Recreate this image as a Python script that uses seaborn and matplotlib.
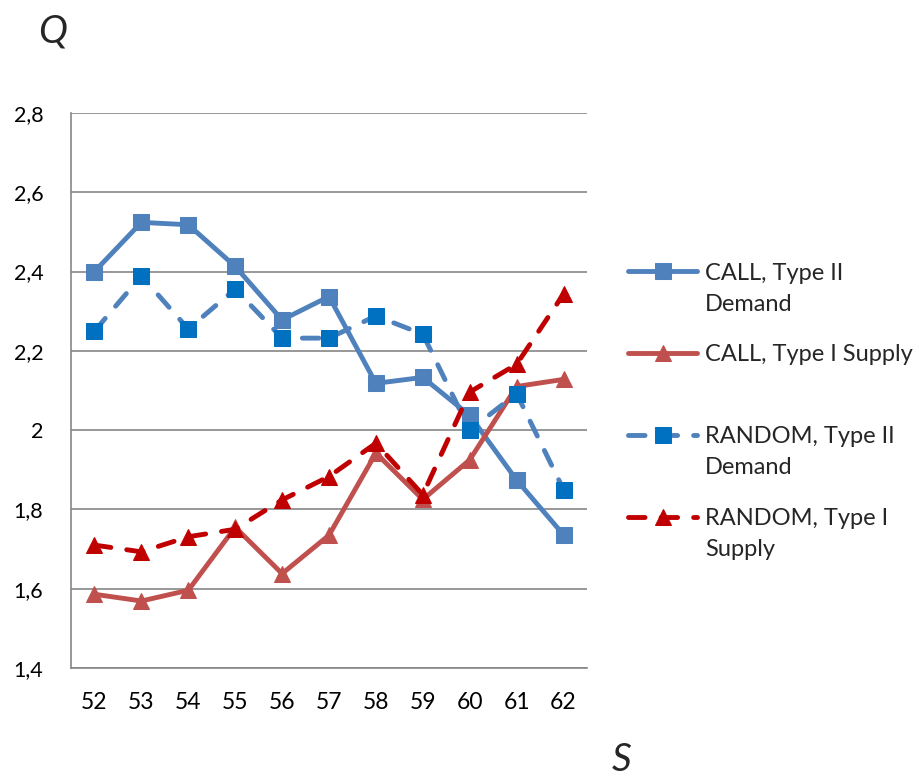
import matplotlib
matplotlib.use("Agg")
import matplotlib.pyplot as plt
import matplotlib.ticker as mticker
import seaborn as sns
import pandas as pd

# Parameter S on the horizontal axis
s_values = [52, 53, 54, 55, 56, 57, 58, 59, 60, 61, 62]

# Q for each configuration
call_demand = [2.40, 2.524, 2.518, 2.413, 2.278, 2.337, 2.118, 2.133, 2.037, 1.874, 1.736]
call_supply = [1.586, 1.569, 1.596, 1.755, 1.638, 1.735, 1.942, 1.825, 1.925, 2.11, 2.128]
random_demand = [2.25, 2.389, 2.255, 2.356, 2.232, 2.232, 2.288, 2.242, 2.0, 2.092, 1.85]
random_supply = [1.71, 1.693, 1.731, 1.75, 1.824, 1.883, 1.967, 1.837, 2.096, 2.166, 2.343]

# Legend labels: first line goes with the handle, second line (if any) below it
series_first = ["CALL, Type II", "CALL, Type I Supply", "RANDOM, Type II", "RANDOM, Type I"]
series_second = ["Demand", "", "Demand", "Supply"]
y_ticks = [1.4, 1.6, 1.8, 2.0, 2.2, 2.4, 2.6, 2.8]

sns.set_theme(style="white")
plt.rcParams["font.family"] = ["Lato", "DejaVu Sans"]

fig = plt.figure(figsize=(9.19, 7.79), dpi=100)
ax = fig.add_axes([0.0773, 0.1425, 0.5614, 0.7125])

lw = 3.5
dash = (0, (3.4, 3.3))
styles = [
    dict(color="#4F81BD", marker="s", markersize=12, markerfacecolor="#4F81BD",
         markeredgecolor="#4F81BD", linestyle="-"),
    dict(color="#C0504D", marker="^", markersize=12, markerfacecolor="#C0504D",
         markeredgecolor="#C0504D", linestyle="-"),
    dict(color="#4F81BD", marker="s", markersize=12, markerfacecolor="#0070C0",
         markeredgecolor="#0070C0", linestyle=dash),
    dict(color="#C00000", marker="^", markersize=12, markerfacecolor="#C00000",
         markeredgecolor="#C00000", linestyle=dash),
]

for vals, label, st in zip([call_demand, call_supply, random_demand, random_supply],
                           series_first, styles):
    df = pd.DataFrame({"S": s_values, "Q": vals})
    sns.lineplot(data=df, x="S", y="Q", ax=ax, label=label, linewidth=lw,
                 dash_capstyle="round", solid_capstyle="round", **st)

ax.set_xlim(51.5, 62.5)
ax.set_ylim(1.4, 2.8)
ax.set_xlabel("")
ax.set_ylabel("")

# Category-style x axis: labels at each S, tick marks between categories
ax.xaxis.set_major_locator(mticker.FixedLocator(s_values))
ax.xaxis.set_minor_locator(mticker.FixedLocator([v - 0.5 for v in s_values] + [s_values[-1] + 0.5]))
ax.tick_params(axis="x", which="major", length=0, pad=17, labelsize=16.5, labelcolor="black")
ax.tick_params(axis="x", which="minor", length=8, width=1.2, color="#868686", direction="out")

ax.set_yticks(y_ticks)
ax.yaxis.set_major_formatter(mticker.FuncFormatter(
    lambda v, p: (f"{v:.1f}".rstrip("0").rstrip(".")).replace(".", ",")))
ax.tick_params(axis="y", which="major", length=8, width=1.2, color="#868686",
               direction="out", pad=12, labelsize=15.5, labelcolor="black")

ax.grid(axis="y", color="#868686", linewidth=1.2)
ax.set_axisbelow(True)
for side in ["top", "right"]:
    ax.spines[side].set_visible(False)
for side in ["left", "bottom"]:
    ax.spines[side].set_color("#868686")
    ax.spines[side].set_linewidth(1.2)

leg = ax.legend(loc="upper left", bbox_to_anchor=(0.683, 0.663), bbox_transform=fig.transFigure,
                frameon=False, fontsize=17, handlelength=2.95, handletextpad=0.34,
                labelspacing=2.58, borderaxespad=0, borderpad=0)

# Wrapped second lines of the legend labels, placed one text line below the first
fig.canvas.draw()
for txt, extra in zip(leg.get_texts(), series_second):
    if extra:
        bb = txt.get_window_extent()
        fig.text(bb.x0, bb.y0 - 31, extra, transform=None, ha="left", va="bottom",
                 fontsize=17)

fig.text(0.057, 0.959, "Q", fontsize=28, style="italic", ha="center", va="center")
fig.text(0.676, 0.024, "S", fontsize=28, style="italic", ha="center", va="center")

fig.savefig("out.png", dpi=100)
